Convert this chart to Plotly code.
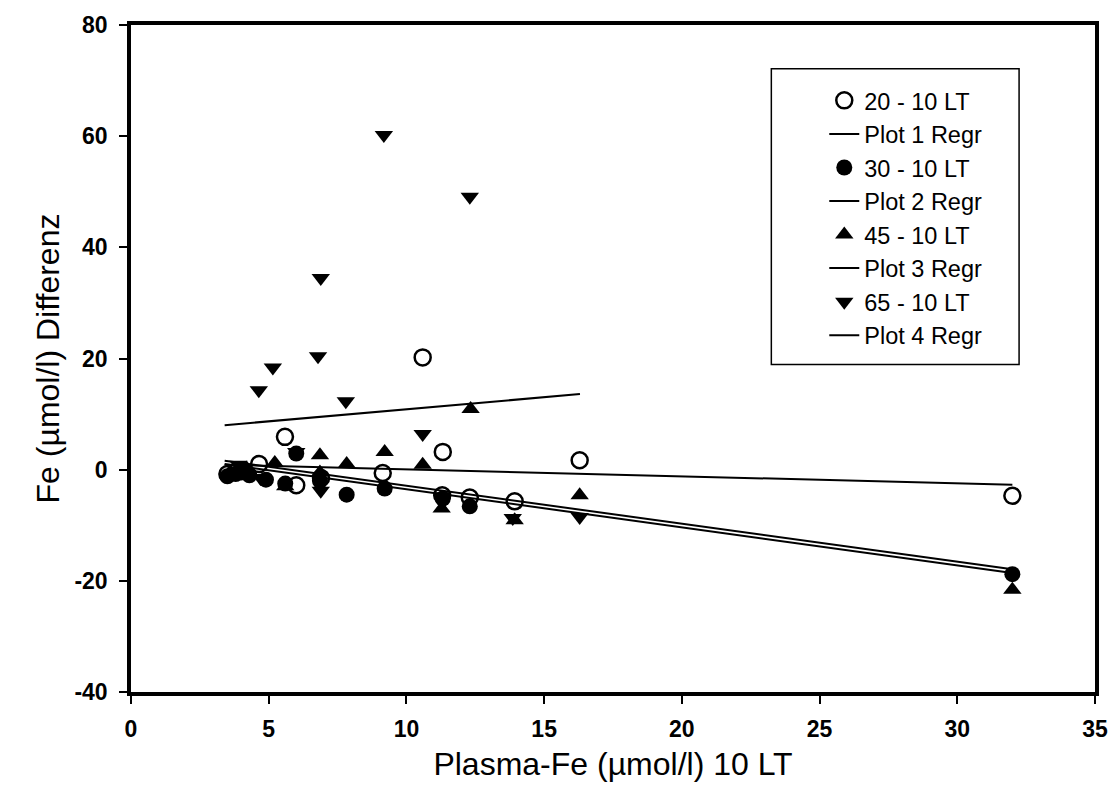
import plotly.graph_objects as go

# ---- data ----
x_20 = [3.5, 4.0, 4.65, 5.59, 6.0, 6.9, 9.14, 10.59, 11.32, 11.3, 12.3, 13.93, 16.29, 32.0]
y_20 = [-0.8, -0.3, 1.0, 5.9, -2.8, -1.5, -0.6, 20.2, 3.2, -4.6, -5.0, -5.7, 1.7, -4.7]

x_30 = [3.5, 3.8, 4.3, 4.9, 5.6, 6.0, 6.86, 7.83, 9.21, 11.32, 12.3, 32.0]
y_30 = [-1.2, -0.8, -1.0, -1.8, -2.5, 2.9, -2.0, -4.5, -3.4, -5.2, -6.6, -18.8]

x_45 = [3.6, 4.2, 5.22, 5.6, 6.86, 6.86, 7.83, 9.21, 10.59, 11.28, 12.33, 13.93, 16.29, 32.0]
y_45 = [-0.4, 0.2, 1.2, -3.0, 2.6, -0.5, 1.0, 3.2, 0.9, -7.0, 10.9, -9.1, -4.6, -21.6]

x_65 = [9.18, 12.3, 6.89, 6.79, 5.15, 4.64, 7.80, 10.59, 6.0, 3.9, 4.7, 6.89, 11.28, 13.86, 16.29]
y_65 = [60.2, 49.1, 34.5, 20.4, 18.4, 14.3, 12.3, 6.4, 3.2, 0.9, -1.5, -3.8, -4.8, -8.7, -8.5]

# regression lines (end points)
reg1_x = [3.4, 32.0]
reg1_y = [0.88, -2.7]
reg2_x = [3.4, 32.0]
reg2_y = [1.0, -18.6]
reg3_x = [3.4, 32.0]
reg3_y = [1.6, -17.9]
reg4_x = [3.4, 16.3]
reg4_y = [8.0, 13.6]

names = ["20 - 10 LT", "Plot 1 Regr", "30 - 10 LT", "Plot 2 Regr",
         "45 - 10 LT", "Plot 3 Regr", "65 - 10 LT", "Plot 4 Regr"]

x_ticks = [0, 5, 10, 15, 20, 25, 30, 35]
x_ticklabels = ["0", "5", "10", "15", "20", "25", "30", "35"]
y_ticks = [-40, -20, 0, 20, 40, 60, 80]
y_ticklabels = ["-40", "-20", "0", "20", "40", "60", "80"]

FONT = "Liberation Sans, Arial, sans-serif"

fig = go.Figure()

def markers(x, y, name, symbol, filled):
    fig.add_trace(go.Scatter(
        x=x, y=y, mode="markers", name=name,
        marker=dict(symbol=symbol, size=16,
                    color="black" if filled else "white",
                    line=dict(color="black", width=0 if filled else 2.5)),
    ))

def regline(x, y, name):
    fig.add_trace(go.Scatter(
        x=x, y=y, mode="lines", name=name,
        line=dict(color="black", width=2),
    ))

markers(x_20, y_20, names[0], "circle", False)
regline(reg1_x, reg1_y, names[1])
markers(x_30, y_30, names[2], "circle", True)
regline(reg2_x, reg2_y, names[3])
markers(x_45, y_45, names[4], "triangle-up", True)
regline(reg3_x, reg3_y, names[5])
markers(x_65, y_65, names[6], "triangle-down", True)
regline(reg4_x, reg4_y, names[7])

L, R, T, B = 131, 24, 20, 116
W, H = 1120, 808
pw = W - L - R
ph = H - T - B

def px(xp):
    return (xp - L) / pw

def py(yp):
    return (H - B - yp) / ph

tickfont = dict(family=FONT, size=23, color="black", weight="bold")
titlefont = dict(family=FONT, size=32, color="black")

fig.update_layout(
    width=W, height=H,
    margin=dict(l=L, r=R, t=T, b=B),
    paper_bgcolor="white", plot_bgcolor="white",
    font=dict(family=FONT, color="black", size=22),
    showlegend=True,
    legend=dict(
        x=px(825), y=py(74), xanchor="left", yanchor="top",
        bgcolor="rgba(0,0,0,0)", borderwidth=0,
        font=dict(family=FONT, size=23.5, color="black"),
        traceorder="normal",
    ),
    xaxis=dict(
        range=[0, 35], tickmode="array", tickvals=x_ticks, ticktext=x_ticklabels,
        showgrid=False, zeroline=False,
        showline=True, linecolor="black", linewidth=3.5, mirror=True,
        ticks="outside", ticklen=8, tickwidth=1.5, tickcolor="black",
        ticklabelstandoff=6,
        tickfont=tickfont,
        title=dict(text="Plasma-Fe (µmol/l) 10 LT", font=titlefont, standoff=12),
    ),
    yaxis=dict(
        range=[-40, 80], tickmode="array", tickvals=y_ticks, ticktext=y_ticklabels,
        showgrid=False, zeroline=False,
        showline=True, linecolor="black", linewidth=3.5, mirror=True,
        ticks="outside", ticklen=8, tickwidth=1.5, tickcolor="black",
        ticklabelstandoff=7,
        tickfont=tickfont,
        title=dict(text="Fe (µmol/l) Differenz", font=titlefont, standoff=6),
    ),
    shapes=[dict(type="rect", xref="paper", yref="paper",
                 x0=px(772), x1=px(1020), y0=py(362), y1=py(64),
                 line=dict(color="black", width=1.5), fillcolor="white",
                 layer="below")],
)

fig.write_html("out.html")
